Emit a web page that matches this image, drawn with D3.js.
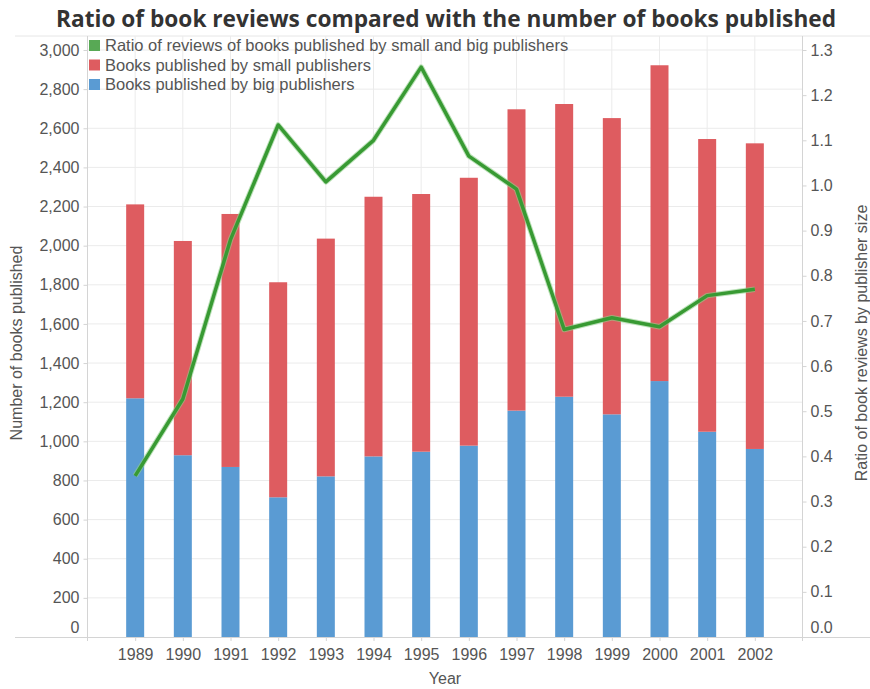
<!DOCTYPE html>
<html><head><meta charset="utf-8">
<script src="https://cdn.jsdelivr.net/npm/d3@7"></script>
<style>body{margin:0;background:#fff}svg{display:block}</style>
</head><body>
<svg id="chart" width="870" height="689"></svg>
<script>
const years = ["1989","1990","1991","1992","1993","1994","1995","1996","1997","1998","1999","2000","2001","2002"];
const bigPublishers = [1220, 929, 869, 714, 821, 923, 947, 978, 1157, 1228, 1138, 1308, 1049, 961];
const totalPublished = [2211, 2024, 2162, 1813, 2036, 2250, 2264, 2347, 2697, 2724, 2652, 2922, 2545, 2523];
const smallPublishers = totalPublished.map((t, i) => t - bigPublishers[i]);
const reviewRatio = [0.357, 0.527, 0.88, 1.134, 1.008, 1.10, 1.262, 1.065, 0.992, 0.681, 0.707, 0.687, 0.756, 0.770];
const leftTicks = [0,200,400,600,800,1000,1200,1400,1600,1800,2000,2200,2400,2600,2800,3000];
const rightTicks = [0,0.1,0.2,0.3,0.4,0.5,0.6,0.7,0.8,0.9,1.0,1.1,1.2,1.3];
const legendItems = ["Ratio of reviews of books published by small and big publishers","Books published by small publishers","Books published by big publishers"];
const colors = {line:"#389a33", lineLegend:"#58a955", small:"#de5c60", big:"#5a9bd3"};

const svg = d3.select("#chart");
const L = 87.5, R = 802.5, T = 50, B = 637;
const font = "'Liberation Sans', Arial, sans-serif";
const x = d3.scalePoint().domain(years).range([L, R]).padding(1);
const yL = d3.scaleLinear().domain([0, 3000]).range([B, T]);
const yR = d3.scaleLinear().domain([0, 1.3]).range([B, T]);
const grid = "#ebebeb", axisC = "#d4d4d4", textC = "#555";

// title
svg.append("text").attr("x", 446).attr("y", 27).attr("text-anchor", "middle")
  .attr("font-family", "'Open Sans', sans-serif").attr("font-weight", "bold")
  .attr("font-size", 22.5).attr("fill", "#333")
  .attr("textLength", 780).attr("lengthAdjust", "spacingAndGlyphs")
  .text("Ratio of book reviews compared with the number of books published");

// top separator
svg.append("line").attr("x1", 15).attr("x2", 870).attr("y1", 36).attr("y2", 36).attr("stroke", "#e6e6e6");

// gridlines
svg.append("g").selectAll("line").data(leftTicks.slice(1)).join("line")
  .attr("x1", L).attr("x2", R).attr("y1", d => yL(d)).attr("y2", d => yL(d))
  .attr("stroke", grid).attr("stroke-width", 1);
svg.append("g").selectAll("line").data(years).join("line")
  .attr("x1", d => x(d)).attr("x2", d => x(d)).attr("y1", 36).attr("y2", B)
  .attr("stroke", grid).attr("stroke-width", 1);

// bars
const bw = 18;
const g = svg.append("g");
g.selectAll(".big").data(years).join("rect").attr("class", "big")
  .attr("x", d => x(d) - bw / 2).attr("width", bw)
  .attr("y", (d, i) => yL(bigPublishers[i])).attr("height", (d, i) => yL(0) - yL(bigPublishers[i]))
  .attr("fill", colors.big);
g.selectAll(".small").data(years).join("rect").attr("class", "small")
  .attr("x", d => x(d) - bw / 2).attr("width", bw)
  .attr("y", (d, i) => yL(bigPublishers[i] + smallPublishers[i]))
  .attr("height", (d, i) => yL(bigPublishers[i]) - yL(bigPublishers[i] + smallPublishers[i]))
  .attr("fill", colors.small);

// line
const line = d3.line().x((d, i) => x(years[i])).y(d => yR(d));
svg.append("path").datum(reviewRatio).attr("d", line).attr("fill", "none")
  .attr("stroke", "#8fcf8a").attr("stroke-width", 5.5).attr("stroke-linejoin", "round").attr("opacity", 0.6);
svg.append("path").datum(reviewRatio).attr("d", line).attr("fill", "none")
  .attr("stroke", colors.line).attr("stroke-width", 3.5).attr("stroke-linejoin", "round");

// axes lines
svg.append("line").attr("x1", 15).attr("x2", 870).attr("y1", B + 0.5).attr("y2", B + 0.5).attr("stroke", axisC);
svg.append("line").attr("x1", L).attr("x2", L).attr("y1", 36).attr("y2", B + 4).attr("stroke", axisC);
svg.append("line").attr("x1", R).attr("x2", R).attr("y1", 36).attr("y2", B + 4).attr("stroke", axisC);

// left axis
const la = d3.axisLeft(yL).tickValues(leftTicks).tickSize(4).tickPadding(4).tickFormat(d3.format(","));
const lag = svg.append("g").attr("transform", `translate(${L},0)`).call(la);
// right axis
const ra = d3.axisRight(yR).tickValues(rightTicks).tickSize(4).tickPadding(4).tickFormat(d3.format(".1f"));
const rag = svg.append("g").attr("transform", `translate(${R},0)`).call(ra);
// bottom axis
const ba = d3.axisBottom(x).tickSize(4).tickPadding(4);
const bag = svg.append("g").attr("transform", `translate(0,${B})`).call(ba);
[lag, rag, bag].forEach(a => {
  a.select(".domain").remove();
  a.selectAll(".tick line").attr("stroke", axisC);
  a.selectAll(".tick text").attr("font-family", font).attr("font-size", 16).attr("fill", textC);
});
lag.selectAll(".tick text").filter(d => d === 0).attr("dy", "-0.3em");
rag.selectAll(".tick text").filter(d => d === 0).attr("dy", "-0.3em");
bag.selectAll(".tick text").attr("dy", "0.95em");

// axis titles
svg.append("text").attr("x", 445).attr("y", 684).attr("text-anchor", "middle")
  .attr("font-family", font).attr("font-size", 16).attr("fill", textC).text("Year");
svg.append("text").attr("transform", "translate(22,343) rotate(-90)").attr("text-anchor", "middle")
  .attr("font-family", font).attr("font-size", 16).attr("fill", textC).text("Number of books published");
svg.append("text").attr("transform", "translate(867,343) rotate(-90)").attr("text-anchor", "middle")
  .attr("font-family", font).attr("font-size", 16).attr("fill", textC).text("Ratio of book reviews by publisher size");

// legend
const legColors = [colors.lineLegend, colors.small, colors.big];
const leg = svg.append("g").selectAll("g").data(legendItems).join("g")
  .attr("transform", (d, i) => `translate(89,${45.5 + i * 19.5})`);
leg.append("rect").attr("x", 0).attr("y", -5.5).attr("width", 11).attr("height", 11).attr("fill", (d, i) => legColors[i]);
leg.append("text").attr("x", 16).attr("y", 0).attr("dy", "0.35em").attr("font-family", font)
  .attr("font-size", 16.5).attr("fill", textC).text(d => d);
</script>
</body></html>
